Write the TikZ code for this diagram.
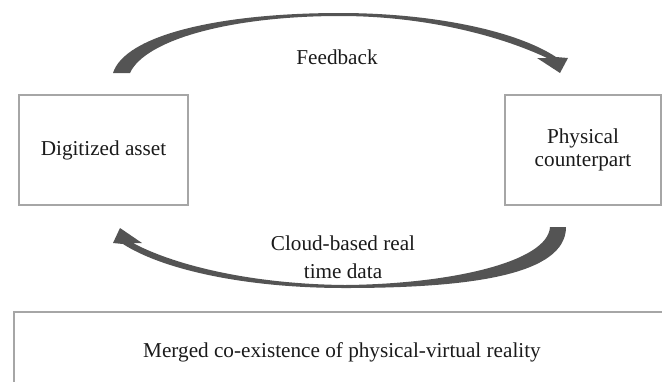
\documentclass[tikz,border=0pt]{standalone}
\usepackage{fontspec}
\setmainfont{Liberation Serif}
\definecolor{boxgray}{HTML}{A6A6A6}
\definecolor{arrowgray}{HTML}{545454}
\definecolor{textblack}{HTML}{1A1A1A}

\begin{document}
\begin{tikzpicture}
  [x=0.5pt,y=-0.5pt,
   every node/.style={font=\fontsize{10.6}{11.5}\selectfont,text=textblack,align=center},
   asset/.style={draw=boxgray,line width=0.8pt,inner sep=0pt},
   curvearrow/.style={fill=arrowgray,draw=none}]
  \useasboundingbox (0,0) rectangle (662,381);
  \clip (0,0) rectangle (662,381);
  \node[asset,minimum width=84.5pt,minimum height=55pt] (digital) at (103.5,150) {Digitized asset};
  \node[asset,minimum width=78pt,minimum height=55pt] (physical) at (583,150) {Physical\\counterpart};
  \node[asset,minimum width=328pt,minimum height=40pt] (merged) at (342,352) {Merged co-existence of physical-virtual reality};
  \node (feedback) at (337,57) {Feedback};
  \node[font=\fontsize{10.6}{14}\selectfont] (cloud) at (343,257) {Cloud-based real\\time data};
  \fill[curvearrow] (113,73) .. controls (125,35) and (220,13) .. (340,13)
    .. controls (430,13) and (515,30) .. (556,57) -- (568,58) -- (560,73)
    -- (537,58) -- (547,58) .. controls (505,38) and (430,16) .. (340,16)
    .. controls (230,16) and (145,40) .. (130,73) -- cycle;
  \fill[curvearrow] (566,227) .. controls (566,275) and (470,288) .. (345,288)
    .. controls (240,288) and (160,268) .. (123,244) -- (113,243) -- (120,228)
    -- (142,243) -- (133,243) .. controls (170,263) and (245,284) .. (345,285)
    .. controls (450,284) and (548,262) .. (550,227) -- cycle;
\end{tikzpicture}
\end{document}
